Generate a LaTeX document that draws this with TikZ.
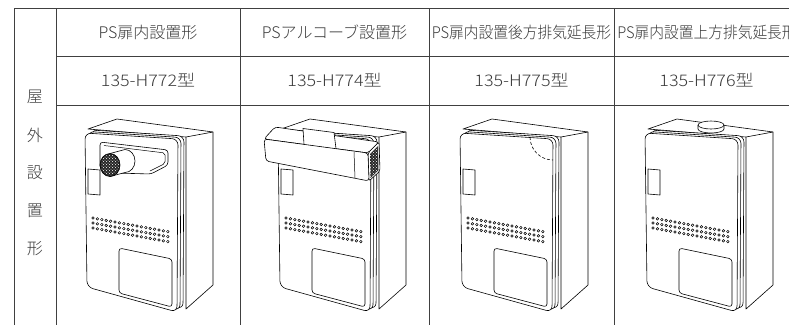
\documentclass[tikz,border=0pt]{standalone}
\usepackage{fontspec}
\usepackage{graphicx}
\usepackage{tikz}
\usetikzlibrary{patterns}
\newfontfamily\jp{Noto Sans CJK JP Light}
\definecolor{ink}{HTML}{3A3A3A}
\tikzstyle{rule} = [line width=0.7pt, black!75]
\tikzstyle{head} = [font=\jp\fontsize{16}{18}\selectfont, text=ink, inner sep=0pt]
\tikzstyle{part} = [line width=0.6pt, black, fill=white, line join=round]
\tikzstyle{mesh} = [pattern=crosshatch dots, pattern color=white]

% common body of one heater, origin at the front panel's top left corner
\newcommand{\heaterbody}{%
  \draw[part] (3,-4) -- (32,-14) -- (128,-1) -- (128,152) -- (101,176) -- (101,4) -- cycle;
  \draw[part] (101,4) -- (128,-1);
  \draw[part, rounded corners=6pt] (6,-3) -- (99,3) -- (98,176) -- (8,151) -- cycle;
  \draw[part, rounded corners=6pt] (3,-1.5) -- (96,4.5) -- (95,177.5) -- (5,152.5) -- cycle;
  \draw[part, rounded corners=6pt] (0,0) -- (93,6) -- (92,179) -- (2,154) -- cycle;
  \draw[part] (3,36) -- (15,37) -- (15,62) -- (3,61) -- cycle;
  \foreach \i in {0,...,17}
    \foreach \j in {0,1,2}
      \draw[line width=0.5pt] ({8+4.4*\i},{85+5*\j+0.8*\i}) circle (1.3pt);
  \draw[part, rounded corners=3pt] (34,115) -- (87,126) -- (87,174) -- (34,160) -- cycle;
}

\begin{document}
\begin{tikzpicture}[x=1pt, y=-1pt]
  \useasboundingbox (0,0) rectangle (789,325);

  % table
  \draw[rule] (14,325) -- (14,8) -- (789,8);
  \foreach \x in {56,240,429,614}
    \draw[rule] (\x,8) -- (\x,325);
  \draw[rule] (56,56) -- (789,56);
  \draw[rule] (56,105) -- (789,105);

  \node[head] (h1) at (148,32) {PS扉内設置形};
  \node[head] (h2) at (334.5,32) {PSアルコーブ設置形};
  \node[head] (h3) at (521.5,32) {\scalebox{0.92}[1]{PS扉内設置後方排気延長形}};
  \node[head] (h4) at (707,32) {\scalebox{0.92}[1]{PS扉内設置上方排気延長形}};

  \node[head] (m1) at (148,80) {\scalebox{1.12}[1]{135-H772型}};
  \node[head] (m2) at (334.5,80) {\scalebox{1.12}[1]{135-H774型}};
  \node[head] (m3) at (521.5,80) {\scalebox{1.12}[1]{135-H775型}};
  \node[head] (m4) at (706.5,80) {\scalebox{1.12}[1]{135-H776型}};

  \foreach \c [count=\k] in {屋,外,設,置,形}
    \node[head] (s\k) at (35,{59+38*\k}) {\c};

  % 135-H772: front exhaust
  \begin{scope}[shift={(85,133)}]
    \heaterbody
    \draw[part, rounded corners=3pt] (15,9) -- (83,17) -- (83,32) -- (66,41) -- (30,40) -- (15,36) -- cycle;
    \draw[line width=0.5pt, rounded corners=2pt] (19,12.5) -- (80,20) -- (80,30.5) -- (65,38);
    \draw[part] (25,20.5) -- (40,16.5) arc[start angle=90, end angle=-90, x radius=10pt, y radius=11.5pt] -- (25,43.5) -- cycle;
    \fill[black!85] (25,32) ellipse[x radius=10pt, y radius=11.5pt];
    \fill[mesh] (25,32) ellipse[x radius=9pt, y radius=10.5pt];
    \draw[line width=0.6pt] (25,32) ellipse[x radius=10pt, y radius=11.5pt];
  \end{scope}

  % 135-H774: alcove hood
  \begin{scope}[shift={(278,133)}]
    \heaterbody
    \draw[part, rounded corners=3pt] (-14,6) -- (-3,-6) -- (101,9) -- (90,20) -- cycle;
    \draw[part] (26,11.5) -- (25,-4.5) -- (56,-0.5) -- (58,15.5);
    \draw[part, rounded corners=2pt] (90,20) -- (101,9) -- (102,38) -- (91,48) -- cycle;
    \fill[black!85] (92,21) -- (100,13) -- (100.5,37) -- (92.5,45) -- cycle;
    \fill[mesh] (92,21) -- (100,13) -- (100.5,37) -- (92.5,45) -- cycle;
    \draw[part, rounded corners=3pt] (-14,6) -- (90,20) -- (91,48) -- (-12,28) -- cycle;
    \draw[line width=0.5pt] (76,19) -- (77,45);
  \end{scope}

  % 135-H775: rear exhaust
  \begin{scope}[shift={(460,133)}]
    \heaterbody
    \draw[line width=0.6pt, dash pattern=on 3pt off 2pt] (70,4) arc[start angle=180, end angle=270, radius=23pt];
  \end{scope}

  % 135-H776: top exhaust
  \begin{scope}[shift={(645,133)}]
    \heaterbody
    \draw[part] (53,-8) -- (53,-4) arc[start angle=180, end angle=360, x radius=13pt, y radius=4pt] -- (79,-8);
    \draw[part] (66,-8) ellipse[x radius=13pt, y radius=4pt];
  \end{scope}
\end{tikzpicture}
\end{document}
